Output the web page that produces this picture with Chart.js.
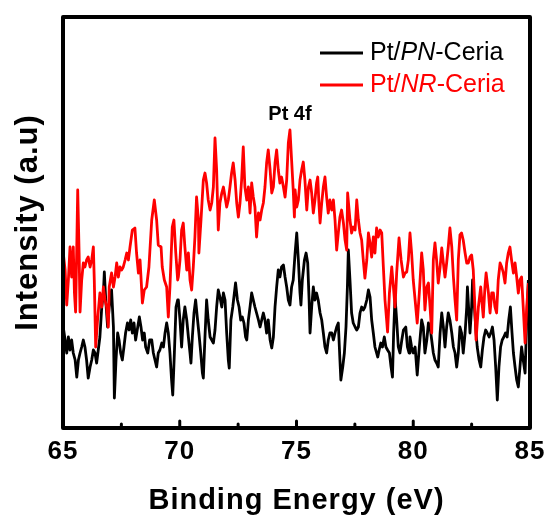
<!DOCTYPE html>
<html>
<head>
<meta charset="utf-8">
<script src="https://cdn.jsdelivr.net/npm/chart.js@4.4.1/dist/chart.umd.min.js"></script>
<style>
  html, body { margin: 0; padding: 0; background: #fff; }
  canvas { display: block; }
</style>
</head>
<body>
<canvas id="xpsChart" width="547" height="518"></canvas>
<script>
// XPS Pt 4f region (arbitrary intensity units)
const xTicks = [65, 70, 75, 80, 85];
const minorTicks = [67.5, 72.5, 77.5, 82.5];

// Pt/PN-Ceria (black)  [binding energy eV, intensity]
const pnCeria = [
    [65.01,101],[65.09,88],[65.16,75],[65.23,91],[65.30,78],[65.37,88],[65.44,75],[65.52,68],
    [65.59,51],[65.66,68],[65.73,75],[65.80,81],[65.87,88],[65.94,81],[66.01,68],[66.08,50],
    [66.16,61],[66.23,68],[66.30,78],[66.37,75],[66.44,65],[66.51,78],[66.58,91],[66.66,121],
    [66.73,135],[66.77,156],[66.83,128],[66.91,101],[66.98,121],[67.08,138],[67.16,101],[67.20,30],
    [67.27,68],[67.34,95],[67.40,88],[67.47,75],[67.54,68],[67.61,81],[67.68,95],[67.76,105],
    [67.83,98],[67.90,108],[67.97,95],[68.04,105],[68.11,88],[68.20,101],[68.27,111],[68.34,101],
    [68.41,88],[68.48,95],[68.54,81],[68.63,75],[68.71,88],[68.80,88],[68.87,75],[68.94,68],
    [69.01,61],[69.08,75],[69.15,78],[69.23,85],[69.30,81],[69.37,95],[69.44,105],[69.51,95],
    [69.58,75],[69.65,48],[69.70,33],[69.77,75],[69.84,121],[69.91,128],[69.94,128],[70.01,108],
    [70.08,81],[70.15,108],[70.22,121],[70.30,108],[70.37,91],[70.44,75],[70.48,65],[70.54,91],
    [70.61,115],[70.68,128],[70.75,111],[70.82,95],[70.90,75],[70.97,55],[71.01,50],[71.08,91],
    [71.15,128],[71.22,108],[71.30,91],[71.37,88],[71.44,85],[71.51,98],[71.58,121],[71.65,138],
    [71.72,131],[71.80,121],[71.87,135],[71.94,128],[72.01,95],[72.08,68],[72.12,60],[72.19,108],
    [72.27,121],[72.34,135],[72.39,145],[72.47,128],[72.54,121],[72.61,108],[72.68,111],[72.75,105],
    [72.82,91],[72.87,88],[72.94,108],[73.01,121],[73.08,135],[73.15,128],[73.22,121],[73.29,115],
    [73.37,108],[73.44,101],[73.51,108],[73.58,115],[73.65,108],[73.72,95],[73.79,108],[73.87,88],
    [73.94,80],[74.01,91],[74.08,121],[74.15,141],[74.22,158],[74.29,151],[74.36,161],[74.44,163],
    [74.51,151],[74.58,141],[74.65,128],[74.72,123],[74.79,141],[74.86,148],[74.94,175],[75.01,195],
    [75.08,168],[75.15,135],[75.19,123],[75.25,148],[75.34,168],[75.41,175],[75.48,165],[75.54,128],
    [75.58,95],[75.65,121],[75.72,141],[75.79,128],[75.86,135],[75.93,128],[76.01,115],[76.08,108],
    [76.15,95],[76.22,81],[76.29,75],[76.36,88],[76.43,95],[76.51,95],[76.58,88],[76.65,95],
    [76.72,101],[76.79,105],[76.86,68],[76.90,48],[76.98,61],[77.05,75],[77.12,101],[77.18,141],
    [77.22,178],[77.29,148],[77.36,115],[77.43,105],[77.51,101],[77.58,98],[77.65,101],[77.72,115],
    [77.79,121],[77.86,118],[77.93,121],[78.01,128],[78.08,138],[78.15,131],[78.22,108],[78.29,95],
    [78.36,81],[78.43,75],[78.48,71],[78.54,78],[78.61,85],[78.68,81],[78.76,91],[78.83,81],
    [78.90,78],[78.98,75],[79.05,61],[79.11,51],[79.16,95],[79.22,131],[79.29,108],[79.36,81],
    [79.43,75],[79.51,88],[79.58,98],[79.68,101],[79.75,81],[79.82,75],[79.86,91],[79.93,81],
    [80.00,75],[80.08,81],[80.17,53],[80.26,81],[80.36,108],[80.43,101],[80.50,75],[80.58,88],
    [80.65,105],[80.72,101],[80.79,88],[80.86,75],[80.93,68],[81.00,65],[81.07,61],[81.15,95],
    [81.22,115],[81.29,101],[81.36,81],[81.43,101],[81.50,115],[81.57,108],[81.65,95],[81.72,81],
    [81.79,75],[81.86,61],[81.93,75],[82.00,101],[82.07,95],[82.14,75],[82.22,95],[82.29,121],
    [82.32,141],[82.37,121],[82.43,95],[82.50,121],[82.54,148],[82.62,121],[82.69,95],[82.74,81],
    [82.82,68],[82.89,61],[82.96,78],[83.03,91],[83.10,98],[83.17,95],[83.25,91],[83.32,95],
    [83.39,101],[83.46,88],[83.53,61],[83.60,28],[83.67,61],[83.74,81],[83.81,88],[83.88,91],
    [83.95,95],[84.02,91],[84.09,108],[84.16,121],[84.23,95],[84.29,75],[84.36,61],[84.43,48],
    [84.50,41],[84.57,61],[84.64,81],[84.71,68],[84.79,55],[84.86,108],[84.93,148]
];

// Pt/NR-Ceria (red)
const nrCeria = [
    [65.01,175],[65.09,158],[65.16,123],[65.23,148],[65.30,181],[65.37,151],[65.44,181],[65.49,135],
    [65.54,116],[65.59,181],[65.63,238],[65.69,175],[65.73,116],[65.80,148],[65.87,165],[65.94,161],
    [66.01,168],[66.08,171],[66.16,161],[66.23,168],[66.30,181],[66.34,148],[66.40,81],[66.48,108],
    [66.58,135],[66.66,121],[66.73,141],[66.80,128],[66.87,121],[66.94,101],[66.98,141],[67.08,155],
    [67.16,141],[67.23,151],[67.30,165],[67.37,151],[67.44,161],[67.51,158],[67.58,161],[67.66,168],
    [67.73,175],[67.80,168],[67.87,181],[67.97,198],[68.08,200],[68.15,175],[68.23,155],[68.30,168],
    [68.40,125],[68.48,138],[68.58,141],[68.68,161],[68.80,208],[68.91,228],[69.01,208],[69.08,183],
    [69.20,181],[69.25,161],[69.34,148],[69.44,141],[69.51,111],[69.58,141],[69.68,201],[69.75,208],
    [69.83,175],[69.91,148],[69.94,151],[70.01,168],[70.08,198],[70.15,205],[70.22,181],[70.30,158],
    [70.37,175],[70.44,148],[70.51,138],[70.58,161],[70.65,191],[70.72,231],[70.80,208],[70.82,175],
    [70.91,208],[71.01,248],[71.08,255],[71.15,245],[71.22,228],[71.30,218],[71.37,225],[71.44,241],
    [71.51,290],[71.58,258],[71.65,198],[71.72,225],[71.80,235],[71.87,241],[71.94,231],[72.01,221],
    [72.08,228],[72.15,241],[72.22,255],[72.29,265],[72.37,248],[72.44,225],[72.51,211],[72.58,225],
    [72.65,248],[72.72,281],[72.79,241],[72.87,228],[72.94,241],[73.01,215],[73.08,245],[73.15,231],
    [73.22,221],[73.29,191],[73.37,215],[73.44,208],[73.51,218],[73.58,225],[73.65,241],[73.72,265],
    [73.79,278],[73.87,258],[73.94,235],[74.01,241],[74.08,265],[74.15,278],[74.22,258],[74.29,245],
    [74.36,251],[74.44,241],[74.51,231],[74.58,248],[74.65,285],[74.72,298],[74.79,268],[74.86,238],
    [74.91,211],[74.94,238],[75.01,221],[75.08,228],[75.15,248],[75.22,258],[75.29,266],[75.36,248],
    [75.44,218],[75.51,241],[75.58,248],[75.65,235],[75.72,215],[75.79,228],[75.86,245],[75.91,251],
    [75.96,225],[76.01,205],[76.08,225],[76.15,241],[76.22,251],[76.29,231],[76.36,215],[76.43,228],
    [76.51,218],[76.58,228],[76.65,208],[76.72,178],[76.79,195],[76.86,211],[76.93,218],[77.01,205],
    [77.08,188],[77.15,178],[77.19,235],[77.29,208],[77.36,195],[77.43,201],[77.51,198],[77.58,228],
    [77.65,208],[77.72,195],[77.79,188],[77.86,168],[77.93,150],[78.01,168],[78.08,195],[78.15,185],
    [78.22,171],[78.29,191],[78.36,175],[78.43,200],[78.50,191],[78.58,198],[78.65,195],[78.72,161],
    [78.79,128],[78.86,108],[78.90,96],[78.98,135],[79.08,161],[79.15,141],[79.22,121],[79.29,155],
    [79.39,190],[79.48,168],[79.58,151],[79.65,155],[79.72,156],[79.79,168],[79.86,195],[79.93,175],
    [80.00,148],[80.08,128],[80.17,105],[80.26,135],[80.36,175],[80.43,158],[80.50,118],[80.58,141],
    [80.65,145],[80.72,121],[80.79,95],[80.86,168],[80.93,185],[81.00,168],[81.07,145],[81.15,161],
    [81.22,180],[81.29,165],[81.36,151],[81.43,165],[81.50,181],[81.57,200],[81.65,181],[81.72,151],
    [81.79,128],[81.86,108],[81.93,168],[82.00,193],[82.07,195],[82.14,188],[82.22,175],[82.29,165],
    [82.36,165],[82.43,171],[82.50,173],[82.57,158],[82.64,121],[82.69,88],[82.79,121],[82.89,141],
    [82.96,121],[83.00,111],[83.07,141],[83.12,155],[83.22,135],[83.29,115],[83.36,135],[83.43,135],
    [83.50,121],[83.57,115],[83.64,148],[83.72,165],[83.79,161],[83.86,155],[83.93,145],[84.00,165],
    [84.07,175],[84.14,181],[84.21,168],[84.29,155],[84.36,165],[84.43,151],[84.50,135],[84.57,148],
    [84.64,151],[84.71,121],[84.79,85],[84.86,121],[84.93,145]
];

// legend text, italic part in the middle
const legendItems = [
    { parts: ['Pt/', 'PN', '-Ceria'], color: '#000000' },
    { parts: ['Pt/', 'NR', '-Ceria'], color: '#ff0000' }
];
const peakLabel = { text: 'Pt 4f', x: 74.72, y: 298 };

const FONT = '"Liberation Sans", Arial, Helvetica, sans-serif';

function toPoints(rows) {
    return rows.map(r => ({ x: r[0], y: r[1] }));
}

// frame, inward ticks, legend and peak label
const decorPlugin = {
    id: 'decor',
    beforeDraw(chart) {
        // the original lettering is slightly spaced out
        chart.ctx.letterSpacing = '1px';
    },
    afterDraw(chart) {
        const ctx = chart.ctx;
        const area = chart.chartArea;
        const xs = chart.scales.x;
        const ys = chart.scales.y;
        ctx.save();
        ctx.letterSpacing = '0px';

        // ticks pointing into the plot
        ctx.strokeStyle = '#000';
        ctx.lineCap = 'round';
        ctx.lineWidth = 3;
        xTicks.concat(minorTicks).forEach(v => {
            if (v === 65 || v === 85) return;
            const px = xs.getPixelForValue(v);
            const len = xTicks.includes(v) ? 7 : 4;
            ctx.beginPath();
            ctx.moveTo(px, area.bottom);
            ctx.lineTo(px, area.bottom - len);
            ctx.stroke();
        });

        // box
        ctx.lineWidth = 4;
        ctx.lineJoin = 'round';
        ctx.lineCap = 'butt';
        ctx.strokeRect(area.left, area.top, area.right - area.left, area.bottom - area.top);

        // legend
        legendItems.forEach((item, i) => {
            const y = 53 + i * 32;
            ctx.strokeStyle = item.color;
            ctx.lineWidth = 2.8;
            ctx.beginPath();
            ctx.moveTo(320, y);
            ctx.lineTo(363, y);
            ctx.stroke();
            ctx.fillStyle = item.color;
            ctx.textBaseline = 'middle';
            ctx.textAlign = 'left';
            let tx = 370;
            item.parts.forEach((p, j) => {
                ctx.font = (j === 1 ? 'italic ' : '') + '25px ' + FONT;
                ctx.fillText(p, tx, y);
                tx += ctx.measureText(p).width;
            });
        });

        // peak label
        ctx.fillStyle = '#000';
        ctx.font = 'bold 20px ' + FONT;
        ctx.textAlign = 'center';
        ctx.textBaseline = 'middle';
        ctx.fillText(peakLabel.text, xs.getPixelForValue(peakLabel.x), ys.getPixelForValue(peakLabel.y) - 16);

        ctx.restore();
    }
};

new Chart(document.getElementById('xpsChart').getContext('2d'), {
    type: 'line',
    data: {
        datasets: [{
            label: 'Pt/PN-Ceria',
            data: toPoints(pnCeria),
            borderColor: '#000000',
            borderWidth: 2.8,
            order: 1
        }, {
            label: 'Pt/NR-Ceria',
            data: toPoints(nrCeria),
            borderColor: '#ff0000',
            borderWidth: 2.8,
            order: 0
        }]
    },
    options: {
        responsive: false,
        animation: false,
        events: [],
        layout: { padding: { top: 17, right: 17, left: 0, bottom: 0 } },
        elements: { point: { radius: 0 }, line: { tension: 0, borderJoinStyle: 'round' } },
        plugins: {
            legend: { display: false },
            tooltip: { enabled: false }
        },
        scales: {
            x: {
                type: 'linear',
                min: 65,
                max: 85,
                afterFit(scale) {
                    scale.height = 90;
                    // let the end labels hang over the edges like the original
                    scale.paddingLeft = 0;
                    scale.paddingRight = 0;
                },
                afterBuildTicks(scale) { scale.ticks = xTicks.map(v => ({ value: v })); },
                grid: { display: false, drawTicks: false },
                border: { display: false },
                ticks: {
                    padding: 8,
                    color: '#000',
                    font: { family: FONT, size: 26, weight: 'bold' }
                },
                title: {
                    display: true,
                    text: 'Binding Energy (eV)',
                    color: '#000',
                    padding: { top: 0, bottom: 0 },
                    font: { family: FONT, size: 29, weight: 'bold' }
                }
            },
            y: {
                min: 0,
                max: 411,
                afterFit(scale) { scale.width = 63; },
                grid: { display: false, drawTicks: false },
                border: { display: false },
                ticks: { display: false },
                title: {
                    display: true,
                    text: 'Intensity (a.u)',
                    color: '#000',
                    padding: { top: 10, bottom: 0 },
                    font: { family: FONT, size: 31, weight: 'bold' }
                }
            }
        }
    },
    plugins: [decorPlugin]
});
</script>
</body>
</html>
